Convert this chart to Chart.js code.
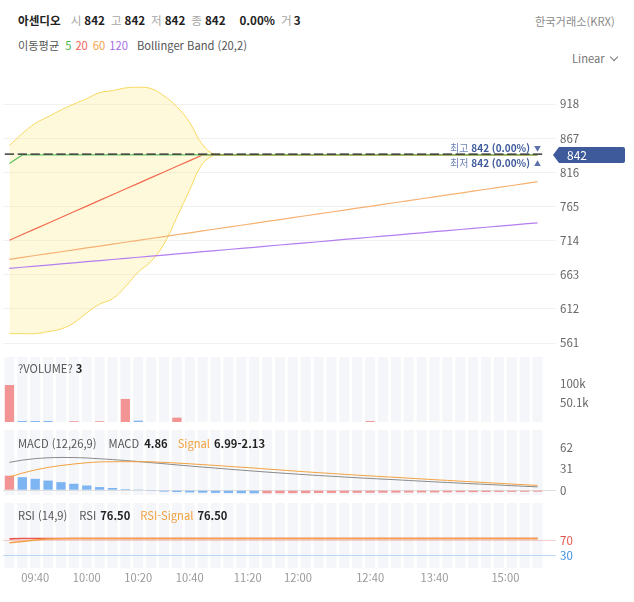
<!DOCTYPE html>
<html lang="ko">
<head>
<meta charset="utf-8">
<title>아센디오 차트</title>
<script src="https://cdn.jsdelivr.net/npm/chart.js@4.4.1/dist/chart.umd.min.js"></script>
<style>
  html, body { margin: 0; padding: 0; background: #fff; }
  body {
    width: 634px; height: 602px; position: relative; overflow: hidden;
    font-family: "Noto Sans CJK KR", "Noto Sans", sans-serif; color: #222;
  }
  canvas { position: absolute; left: 0; }
  .t { position: absolute; white-space: nowrap; font-size: 11.2px; line-height: 16px; z-index: 2; }
  .t span { display: inline-block; }
  .g { color: #a5a5a5; }
  .d { color: #555; }
  .b { font-weight: 700; color: #222; }
  .o { color: #f3a13f; }
  .chev {
    display: inline-block; width: 5px; height: 5px; margin-left: 6px;
    border-right: 1px solid #777; border-bottom: 1px solid #777;
    transform: translateY(-3px) rotate(45deg);
  }
</style>
</head>
<body>
<!-- header -->
<div class="t" style="left:18px;top:12px;font-size:11.6px">
  <span class="b">아센디오</span><span class="g" style="margin-left:10px">시</span><span class="b" style="margin-left:3px">842</span><span class="g" style="margin-left:6px">고</span><span class="b" style="margin-left:3px">842</span><span class="g" style="margin-left:6px">저</span><span class="b" style="margin-left:3px">842</span><span class="g" style="margin-left:6px">종</span><span class="b" style="margin-left:3px">842</span><span class="b" style="margin-left:14px">0.00%</span><span class="g" style="margin-left:6px">거</span><span class="b" style="margin-left:2px">3</span>
</div>
<div class="t" style="left:535px;top:13px;color:#8a8a8a">한국거래소(KRX)</div>

<div class="t" style="left:18px;top:37px">
  <span class="d">이동평균</span><span style="margin-left:6px;color:#4cb84c">5</span><span style="margin-left:4px;color:#f0645a">20</span><span style="margin-left:5px;color:#f3a04a">60</span><span style="margin-left:4px;color:#a46ee6">120</span><span class="d" style="margin-left:9px">Bollinger Band (20,2)</span>
</div>
<div class="t" style="left:572px;top:50px;color:#777">Linear<span class="chev"></span></div>

<!-- pane titles -->
<div class="t d" style="left:18px;top:360px">?VOLUME? <span class="b">3</span></div>
<div class="t" style="left:18px;top:435px">
  <span class="d">MACD (12,26,9)</span><span class="d" style="margin-left:12px">MACD</span><span class="b" style="margin-left:5px">4.86</span><span class="o" style="margin-left:10px">Signal</span><span class="b" style="margin-left:4px">6.99-2.13</span>
</div>
<div class="t" style="left:18px;top:507px">
  <span class="d">RSI (14,9)</span><span class="d" style="margin-left:12px">RSI</span><span class="b" style="margin-left:4px">76.50</span><span class="o" style="margin-left:10px">RSI-Signal</span><span class="b" style="margin-left:4px">76.50</span>
</div>

<canvas id="mainChart" width="634" height="282" style="top:70px"></canvas>
<canvas id="volChart" width="634" height="65" style="top:357px"></canvas>
<canvas id="macdChart" width="634" height="65" style="top:430px"></canvas>
<canvas id="rsiChart" width="634" height="87" style="top:503px"></canvas>

<script>
const FONT = '"Noto Sans CJK KR", "Noto Sans", sans-serif';

// candles (all trades at 842)
const candleOpen = [842, 842, 842, 842, 842, 842, 842, 842, 842, 842, 842, 842, 842, 842,
  842, 842, 842, 842, 842, 842, 842, 842, 842, 842, 842, 842, 842, 842,
  842, 842, 842, 842, 842, 842, 842, 842, 842, 842, 842, 842, 842, 842];
const candleClose = [842, 842, 842, 842, 842, 842, 842, 842, 842, 842, 842, 842, 842, 842,
  842, 842, 842, 842, 842, 842, 842, 842, 842, 842, 842, 842, 842, 842,
  842, 842, 842, 842, 842, 842, 842, 842, 842, 842, 842, 842, 842, 842];

const ma5 = [829, 842, 842, 842, 842, 842, 842, 842, 842, 842, 842, 842, 842, 842,
  842, 842, 842, 842, 842, 842, 842, 842, 842, 842, 842, 842, 842, 842,
  842, 842, 842, 842, 842, 842, 842, 842, 842, 842, 842, 842, 842, 842];
const ma20 = [714.5, 723.0, 731.5, 740.0, 748.5, 757.0, 765.5, 774.0, 782.5, 791.0, 799.5, 808.0, 816.5, 825.0,
  833.5, 842, 842, 842, 842, 842, 842, 842, 842, 842, 842, 842, 842, 842,
  842, 842, 842, 842, 842, 842, 842, 842, 842, 842, 842, 842, 842, 842];
const ma60 = [686.0, 688.8, 691.7, 694.5, 697.3, 700.1, 703.0, 705.8, 708.6, 711.5, 714.3, 717.1, 719.9, 722.8,
  725.6, 728.4, 731.3, 734.1, 736.9, 739.7, 742.6, 745.4, 748.2, 751.1, 753.9, 756.7, 759.5, 762.4,
  765.2, 768.0, 770.9, 773.7, 776.5, 779.3, 782.2, 785.0, 787.8, 790.7, 793.5, 796.3, 799.1, 802.0];
const ma120 = [672.5, 674.2, 675.8, 677.5, 679.1, 680.8, 682.5, 684.1, 685.8, 687.4, 689.1, 690.8, 692.4, 694.1,
  695.7, 697.4, 699.1, 700.7, 702.4, 704.0, 705.7, 707.4, 709.0, 710.7, 712.3, 714.0, 715.7, 717.3,
  719.0, 720.6, 722.3, 724.0, 725.6, 727.3, 728.9, 730.6, 732.3, 733.9, 735.6, 737.2, 738.9, 740.6];
const bbUpper = [856, 874, 889, 899, 909, 918, 926, 935, 938, 942, 943, 941, 930, 914,
  890, 857, 842, 842, 842, 842, 842, 842, 842, 842, 842, 842, 842, 842,
  842, 842, 842, 842, 842, 842, 842, 842, 842, 842, 842, 842, 842, 842];
const bbLower = [575, 575, 575, 578, 582, 591, 606, 619, 627, 645, 667, 683, 709, 749,
  790, 829, 842, 842, 842, 842, 842, 842, 842, 842, 842, 842, 842, 842,
  842, 842, 842, 842, 842, 842, 842, 842, 842, 842, 842, 842, 842, 842];

const volume = [97400, 2500, 2500, 2500, 0, 2000, 0, 2000, 0, 60700, 3500, 0, 0, 11500,
  0, 0, 0, 0, 0, 0, 0, 0, 0, 0, 0, 0, 0, 0,
  2500, 0, 0, 0, 0, 0, 0, 0, 0, 0, 0, 0, 0, 0];
const volUp = [1, 0, 0, 0, 1, 1, 1, 1, 1, 1, 0, 1, 1, 1,
  1, 1, 1, 1, 1, 1, 1, 1, 1, 1, 1, 1, 1, 1,
  1, 1, 1, 1, 1, 1, 1, 1, 1, 1, 1, 1, 1, 1];

const macdLine = [40.7, 44.0, 46.2, 47.4, 47.9, 47.7, 47.1, 46.0, 44.8, 43.4,
  41.9, 40.3, 38.7, 37.0, 35.4, 33.8, 32.3, 30.8, 29.3, 27.9,
  26.5, 25.2, 23.9, 22.7, 21.5, 20.4, 19.3, 18.2, 17.2, 16.2,
  15.3, 14.2, 13.2, 12.2, 11.3, 10.3, 9.4, 8.5, 7.6, 6.6, 5.7, 4.86];
const macdSignal = [19.4, 25.0, 29.6, 33.3, 36.1, 38.3, 40.2, 41.4, 41.6, 41.7,
  41.6, 41.5, 40.7, 39.7, 38.6, 37.4, 36.2, 34.9, 33.6, 32.4,
  30.95, 29.6, 28.2, 26.9, 25.6, 24.4, 23.2, 22.0, 20.9, 19.8,
  18.8, 17.6, 16.5, 15.4, 14.35, 13.2, 12.2, 11.15, 10.1, 9.0, 7.95, 6.99];
const macdHist = [21.3, 19.0, 16.6, 14.1, 11.8, 9.4, 6.9, 4.6, 3.2, 1.7,
  0.3, -1.2, -2.0, -2.7, -3.2, -3.6, -3.9, -4.1, -4.3, -4.5,
  -4.45, -4.4, -4.3, -4.2, -4.1, -4.0, -3.9, -3.8, -3.7, -3.6,
  -3.5, -3.4, -3.3, -3.2, -3.05, -2.9, -2.8, -2.65, -2.5, -2.4, -2.25, -2.13];

const rsi = [75.5, 76.5, 76.5, 76.5, 76.5, 76.5, 76.5, 76.5, 76.5, 76.5, 76.5, 76.5, 76.5, 76.5,
  76.5, 76.5, 76.5, 76.5, 76.5, 76.5, 76.5, 76.5, 76.5, 76.5, 76.5, 76.5, 76.5, 76.5,
  76.5, 76.5, 76.5, 76.5, 76.5, 76.5, 76.5, 76.5, 76.5, 76.5, 76.5, 76.5, 76.5, 76.5];
const rsiSignal = [65.2, 68.7, 72.4, 75.0, 76.0, 76.5, 76.5, 76.5, 76.5, 76.5, 76.5, 76.5, 76.5, 76.5,
  76.5, 76.5, 76.5, 76.5, 76.5, 76.5, 76.5, 76.5, 76.5, 76.5, 76.5, 76.5, 76.5, 76.5,
  76.5, 76.5, 76.5, 76.5, 76.5, 76.5, 76.5, 76.5, 76.5, 76.5, 76.5, 76.5, 76.5, 76.5];

const priceTicks = [561, 612, 663, 714, 765, 816, 867, 918];
const volTicks = [50100, 100000];
const macdTicks = [0, 31, 62];
const rsiTicks = [30, 70];
const timeTicks = [2, 6, 10, 14, 18.5, 22.4, 28, 33, 38.5];
const timeLabels = ["09:40", "10:00", "10:20", "10:40", "11:20", "12:00", "12:40", "13:40", "15:00"];

const slots = candleClose.map((_, i) => i);

const UP = "#f29494";
const DOWN = "#7db4f2";

function xAxis() {
  return { type: "category", offset: true, display: false };
}

function yAxis(min, max, ticks, gridColor, tickColor, fmt) {
  return {
    position: "right",
    min: min,
    max: max,
    afterBuildTicks: (s) => { s.ticks = ticks.map((v) => ({ value: v })); },
    afterFit: (s) => { s.width = 90; s.paddingTop = 0; s.paddingBottom = 0; },
    border: { display: false },
    grid: { color: gridColor, drawTicks: true, tickLength: 12, lineWidth: 1 },
    ticks: {
      color: tickColor || "#666",
      padding: 4,
      font: { size: 11.5, family: FONT },
      callback: fmt || ((v) => v),
    },
  };
}

function line(data, color, extra) {
  return Object.assign({
    type: "line", data: data, borderColor: color, borderWidth: 1.2,
    pointRadius: 0, tension: 0, fill: false,
  }, extra);
}

const base = {
  responsive: false,
  animation: false,
  events: [],
  layout: { padding: { left: 3, right: 0, top: 0, bottom: 0 } },
  plugins: { legend: { display: false }, tooltip: { enabled: false } },
};

// light background columns behind each candle slot
const columnsPlugin = {
  id: "columns",
  beforeDraw(chart) {
    const { ctx, chartArea: a, scales: { x } } = chart;
    const n = x.getLabels().length;
    const w = (a.right - a.left) / n;
    ctx.save();
    ctx.fillStyle = "#f4f6f9";
    for (let i = 0; i < n; i++) {
      const cx = x.getPixelForValue(i);
      ctx.fillRect(cx - w * 0.39, a.top, w * 0.78, a.bottom - a.top);
    }
    ctx.restore();
  },
};

// current price tag and high / low marks
const priceTagPlugin = {
  id: "priceTag",
  afterDraw(chart) {
    const { ctx, chartArea: a, scales: { y } } = chart;
    const last = candleClose[candleClose.length - 1];
    const py = y.getPixelForValue(last);
    const hi = Math.max(...candleClose);
    const lo = Math.min(...candleClose);
    ctx.save();
    const left = a.right + 9;
    ctx.fillStyle = "#3e5a9a";
    ctx.beginPath();
    ctx.moveTo(left, py);
    ctx.lineTo(left + 6, py - 8);
    ctx.lineTo(a.right + 79, py - 8);
    ctx.quadraticCurveTo(a.right + 81, py - 8, a.right + 81, py - 6);
    ctx.lineTo(a.right + 81, py + 6);
    ctx.quadraticCurveTo(a.right + 81, py + 8, a.right + 79, py + 8);
    ctx.lineTo(left + 6, py + 8);
    ctx.closePath();
    ctx.fill();
    ctx.fillStyle = "#fff";
    ctx.font = "12px " + FONT;
    ctx.textBaseline = "middle";
    ctx.textAlign = "left";
    ctx.fillText(String(last), a.right + 23, py + 0.5);

    const rows = [
      ["최고", hi, "▼", y.getPixelForValue(hi) - 7],
      ["최저", lo, "▲", y.getPixelForValue(lo) + 8],
    ];
    rows.forEach(([name, v, arrow, ty]) => {
      let x = a.right - 3;
      ctx.textAlign = "right";
      ctx.font = "7px " + FONT;
      ctx.fillStyle = "#5b72ad";
      ctx.fillText(arrow, x, ty);
      x -= 11;
      ctx.font = "bold 10px " + FONT;
      ctx.fillStyle = "#3e5a9a";
      const val = v + " (0.00%)";
      ctx.fillText(val, x, ty);
      x -= ctx.measureText(val).width + 3;
      ctx.font = "10px " + FONT;
      ctx.fillStyle = "#7085b8";
      ctx.fillText(name, x, ty);
    });
    ctx.restore();
  },
};

new Chart(document.getElementById("mainChart"), {
  type: "bar",
  data: {
    labels: slots,
    datasets: [
      {
        type: "bar",
        data: candleOpen.map((o, i) => [o, candleClose[i]]),
        backgroundColor: "#3d3d3d",
        barPercentage: 0.72,
        categoryPercentage: 1,
        minBarLength: 1.5,
      },
      line(ma5, "#5fc35f"),
      line(ma20, "#f26b4f"),
      line(ma60, "#f6b173"),
      line(ma120, "#b37ef0"),
      line(bbUpper, "#f8d85e", { borderWidth: 1, tension: 0.4 }),
      line(bbLower, "#f8d85e", {
        borderWidth: 1, tension: 0.4, fill: "-1",
        backgroundColor: "rgba(255,234,130,0.28)",
      }),
    ],
  },
  options: Object.assign({}, base, {
    scales: {
      x: xAxis(),
      y: yAxis(547.6, 968.8, priceTicks, "#f1f1f1"),
    },
  }),
  plugins: [priceTagPlugin],
});

new Chart(document.getElementById("volChart"), {
  type: "bar",
  data: {
    labels: slots,
    datasets: [
      {
        data: volume,
        backgroundColor: volUp.map((u) => (u ? UP : DOWN)),
        barPercentage: 0.72,
        categoryPercentage: 1,
      },
    ],
  },
  options: Object.assign({}, base, {
    scales: {
      x: xAxis(),
      y: yAxis(0, 171000, volTicks, "rgba(0,0,0,0)", "#666", (v) => v / 1000 + "k"),
    },
  }),
  plugins: [columnsPlugin],
});

new Chart(document.getElementById("macdChart"), {
  type: "bar",
  data: {
    labels: slots,
    datasets: [
      line(macdSignal, "#f4a23e", { borderWidth: 1 }),
      line(macdLine, "#8a8a8a", { borderWidth: 1 }),
      {
        type: "bar",
        data: macdHist,
        backgroundColor: macdHist.map((v, i) => (i === 0 || v >= macdHist[i - 1] ? UP : DOWN)),
        barPercentage: 0.72,
        categoryPercentage: 1,
      },
    ],
  },
  options: Object.assign({}, base, {
    scales: {
      x: xAxis(),
      y: yAxis(-7, 88, macdTicks, (c) => (c.tick && c.tick.value === 0 ? "#dedede" : "rgba(0,0,0,0)")),
    },
  }),
  plugins: [columnsPlugin],
});

new Chart(document.getElementById("rsiChart"), {
  type: "line",
  data: {
    labels: slots,
    datasets: [
      line(rsiSignal, "#f5a046", { borderWidth: 1.6 }),
      line(rsi, "#e9564e", { borderWidth: 1.6 }),
    ],
  },
  options: Object.assign({}, base, {
    scales: {
      x: xAxis(),
      xt: {
        type: "linear",
        position: "bottom",
        min: -0.5,
        max: slots.length - 0.5,
        afterBuildTicks: (s) => { s.ticks = timeTicks.map((v) => ({ value: v })); },
        afterFit: (s) => { s.height = 22; s.paddingLeft = 0; s.paddingRight = 0; },
        border: { display: false },
        grid: { display: false, drawTicks: false },
        ticks: {
          color: "#9a9a9a",
          padding: 3,
          maxRotation: 0,
          autoSkip: false,
          font: { size: 11.2, family: FONT },
          callback: (v, i) => timeLabels[i],
        },
      },
      y: yAxis(-2, 171, rsiTicks,
        (c) => (c.tick && c.tick.value === 70 ? "rgba(238,96,90,0.3)" : "rgba(70,150,235,0.35)"),
        (c) => (c.tick && c.tick.value === 70 ? "#e5534b" : "#3b8fe8")),
    },
  }),
  plugins: [columnsPlugin],
});
</script>
</body>
</html>
